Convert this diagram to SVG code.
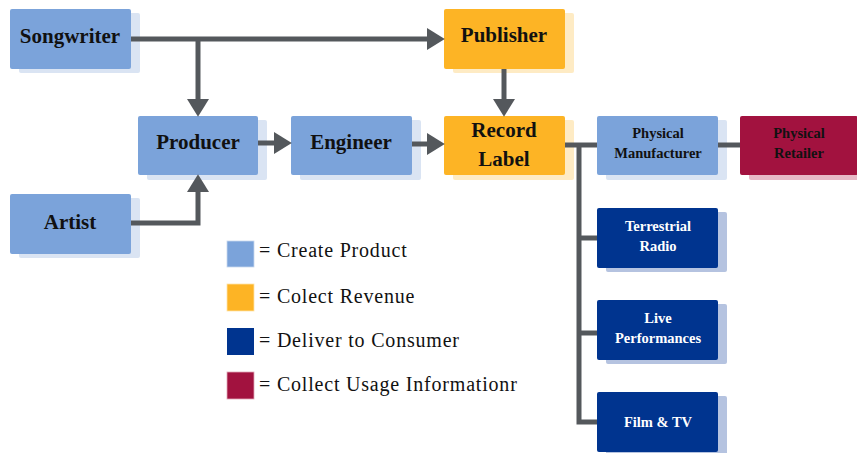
<svg xmlns="http://www.w3.org/2000/svg" width="857" height="453" viewBox="0 0 857 453">
<defs>
<style>
.lb{fill:#7BA3DA}.lbs{fill:#DAE4F3}
.or{fill:#FDB425}.ors{fill:#FEEBC4}
.nv{fill:#00348F}.nvs{fill:#B5C3E0}
.cr{fill:#A2123F}.crs{fill:#E8B8C6}
.t{font-family:'Liberation Serif','Tinos','DejaVu Serif',serif;font-weight:bold;text-anchor:middle;fill:#111}
.big{font-size:21px}
.sm{font-size:14.5px}
.w{fill:#fff}
.c{fill:none;stroke:#54585C;stroke-width:5;stroke-linejoin:miter}
.lg{font-family:'Liberation Serif','Tinos','DejaVu Serif',serif;font-size:20px;letter-spacing:0.8px;fill:#111}
</style>
<marker id="ah" markerUnits="userSpaceOnUse" markerWidth="18" markerHeight="22" viewBox="0 0 17 21" refX="0" refY="10.5" orient="auto">
<path d="M0,0 L17,10.5 L0,21 Z" fill="#54585C"/>
</marker>
</defs>
<rect width="857" height="453" fill="#fff"/>

<g id="songwriter"><rect class="lbs" x="19" y="13" width="121" height="60" rx="2"/><rect class="lb" x="10" y="9" width="121" height="60" rx="2"/><text class="t big" x="70" y="43">Songwriter</text></g>
<g id="artist"><rect class="lbs" x="19" y="198" width="121" height="60" rx="2"/><rect class="lb" x="10" y="194" width="121" height="60" rx="2"/><text class="t big" x="70" y="229">Artist</text></g>
<g id="producer"><rect class="lbs" x="147" y="120" width="120" height="60" rx="2"/><rect class="lb" x="138" y="116" width="120" height="59" rx="2"/><text class="t big" x="198" y="149">Producer</text></g>
<g id="engineer"><rect class="lbs" x="300" y="120" width="121" height="60" rx="2"/><rect class="lb" x="291" y="116" width="121" height="59" rx="2"/><text class="t big" x="351" y="149">Engineer</text></g>
<g id="publisher"><rect class="ors" x="453" y="13" width="121" height="60" rx="2"/><rect class="or" x="444" y="9" width="121" height="60" rx="2"/><text class="t big" x="504" y="42">Publisher</text></g>
<g id="record-label"><rect class="ors" x="453" y="120" width="121" height="60" rx="2"/><rect class="or" x="444" y="116" width="121" height="59" rx="2"/><text class="t big" x="504" y="137">Record</text><text class="t big" x="504" y="166">Label</text></g>
<g id="physical-manufacturer"><rect class="lbs" x="606" y="120" width="121" height="60" rx="2"/><rect class="lb" x="597" y="116" width="121" height="59" rx="2"/><text class="t sm" x="658" y="138">Physical</text><text class="t sm" x="658" y="158">Manufacturer</text></g>
<g id="physical-retailer"><rect class="crs" x="749" y="120" width="118" height="60" rx="2"/><rect class="cr" x="740" y="116" width="118" height="59" rx="2"/><text class="t sm" x="799" y="138">Physical</text><text class="t sm" x="799" y="158">Retailer</text></g>
<g id="terrestrial-radio"><rect class="nvs" x="606" y="212" width="121" height="60" rx="2"/><rect class="nv" x="597" y="208" width="121" height="60" rx="2"/><text class="t sm w" x="658" y="231">Terrestrial</text><text class="t sm w" x="658" y="251">Radio</text></g>
<g id="live-performances"><rect class="nvs" x="606" y="304" width="121" height="60" rx="2"/><rect class="nv" x="597" y="300" width="121" height="60" rx="2"/><text class="t sm w" x="658" y="323">Live</text><text class="t sm w" x="658" y="343">Performances</text></g>
<g id="film-tv"><rect class="nvs" x="606" y="396" width="121" height="60" rx="2"/><rect class="nv" x="597" y="392" width="121" height="60" rx="2"/><text class="t sm w" x="658" y="427">Film &amp; TV</text></g>

<g id="connectors">
<path class="c" d="M131,39 H427" marker-end="url(#ah)"/>
<path class="c" d="M198,39 V99" marker-end="url(#ah)"/>
<path class="c" d="M131,223 H198 V192" marker-end="url(#ah)"/>
<path class="c" d="M258,143 H274" marker-end="url(#ah)"/>
<path class="c" d="M412,144 H427" marker-end="url(#ah)"/>
<path class="c" d="M504,69 V99" marker-end="url(#ah)"/>
<path class="c" d="M565,145 H597"/>
<path class="c" d="M718,145 H740"/>
<path class="c" d="M579,145 V422 H597"/>
<path class="c" d="M579,238 H597"/>
<path class="c" d="M579,333 H597"/>
</g>

<g id="legend">
<rect class="lb" x="227" y="241" width="27" height="26" stroke="#C9D8EE" stroke-width="0.8"/>
<text class="lg" x="259" y="257">= Create Product</text>
<rect class="or" x="227" y="284" width="27" height="27" stroke="#FEE3A8" stroke-width="0.8"/>
<text class="lg" x="259" y="303">= Colect Revenue</text>
<rect class="nv" x="227" y="328" width="27" height="27"/>
<text class="lg" x="259" y="347">= Deliver to Consumer</text>
<rect class="cr" x="227" y="372" width="27" height="27" stroke="#E0A9B8" stroke-width="0.8"/>
<text class="lg" x="259" y="391">= Collect Usage Informationr</text>
</g>
</svg>
